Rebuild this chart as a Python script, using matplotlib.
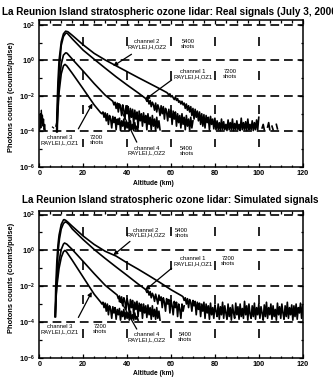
import numpy as np
import matplotlib
matplotlib.use('Agg')
import matplotlib.pyplot as plt
from matplotlib.ticker import NullFormatter

nan = np.nan
plt.rcParams['font.family'] = ['Liberation Sans', 'DejaVu Sans']
plt.rcParams['mathtext.fontset'] = 'custom'
plt.rcParams['mathtext.rm'] = 'Liberation Sans:bold'
plt.rcParams['mathtext.it'] = 'Liberation Sans:bold'
plt.rcParams['mathtext.bf'] = 'Liberation Sans:bold'
plt.rcParams['lines.scale_dashes'] = False

# ---------------- text ----------------
title_real = "La Reunion Island stratospheric ozone lidar: Real signals (July 3, 2000)"
title_sim = "La Reunion Island stratospheric ozone lidar: Simulated signals"
x_label = "Altitude (km)"
y_label = "Photons counts (counts/pulse)"
x_ticks = [0, 20, 40, 60, 80, 100, 120]
y_tick_exps = [-6, -4, -2, 0, 2]
grid_y_exps = [-4, -2, 0, 2]
grid_x = [20, 40, 60, 80, 100]
vdash_centers = [1.05, -0.85, -2.75, -4.65]

channel_names = ["channel 2\nRAYLEI,H,OZ2", "channel 1\nRAYLEI,H,OZ1",
                 "channel 3\nRAYLEI,L,OZ1", "channel 4\nRAYLEI,L,OZ2"]
channel_shots = ["5400\nshots", "7200\nshots", "7200\nshots", "5400\nshots"]

# ---------------- REAL signals (log10 counts/pulse) ----------------
real_ch2_x = [7.9, 8.0, 8.5, 9, 10, 11, 12, 13, 15, 20, 25, 30, 35, 40, 45, 50, 55, 58]
real_ch2_y = [-4.0, -3.0, -1.2, 0.0, 1.05, 1.5, 1.65, 1.62, 1.42, 0.88, 0.4, 0.03, -0.3,
              -0.63, -0.96, -1.28, -1.6, -1.8]
real_ch2_noise_start = 58.5
real_ch2_noise = [-1.85, -1.95, -1.88, -2.05, -1.98, -2.1, -2.2, -2.05, -2.25, -2.15, -2.35, -2.28, -2.45, -2.3,
                  -2.5, -2.4, -2.7, -2.45, -2.8, -2.55, -2.9, -2.6, -3.1, -2.7, -3.3, -2.75, -3.2, -2.85,
                  -3.4, -2.9, -3.6, -3.0, -3.7, -3.05, -3.8, -3.1, -3.5, -3.2, -3.9, -3.15, -3.6, -3.3, -3.85, -3.25,
                  -3.9, -3.4, -3.9, -3.5, -3.95, -3.3, -3.9, -3.45, -3.9, -3.6, -3.95, -3.35, -3.9, -3.5, -3.9, -3.3,
                  -3.95, -3.55, -3.9, -3.4, -3.9, -3.6, -3.95, -3.25, -3.9, -3.5, -3.9, -3.45, -3.95, -3.3, -3.9, -3.6,
                  -3.9, -3.4, -3.95, -3.5, -3.9, -3.35, -3.9, -3.2,
                  nan, nan, -3.8, -3.6, -3.9, nan, nan, -3.75, -3.5, -3.9, nan, -3.7, -3.9, nan, nan, -3.6, -3.85,
                  nan, nan, nan]

real_ch1_x = [8.2, 8.4, 9, 10, 11, 12, 12.5, 13, 15, 20, 25, 30, 35, 40, 45, 48]
real_ch1_y = [-4.0, -2.5, -0.6, 0.85, 1.35, 1.53, 1.55, 1.5, 1.22, 0.58, 0.07, -0.43, -0.92, -1.38, -1.82, -2.1]
real_ch1_noise_start = 48.5
real_ch1_noise = [-2.15, -2.3, -2.2, -2.45, -2.25, -2.6, -2.35, -2.5, -2.8, -2.4, -2.9, -2.5, -2.7, -3.1, -2.55,
                  -3.0, -2.6, -3.3, -2.7, -2.9, -3.4, -2.75, -3.2, -2.8, -3.6, -2.85, -3.3, -2.9, -3.7, -3.0,
                  -3.5, -3.1, -3.8, -3.0, -3.6, -3.2, -3.9, -3.1, -3.7, -3.3, -3.9, -3.2, -3.8, -3.4]

real_ch3_x = [8.0, 8.3, 9, 10, 11, 12, 12.5, 13, 15, 20, 25, 30, 33]
real_ch3_y = [-4.0, -3.0, -1.3, -0.2, 0.3, 0.43, 0.42, 0.36, 0.08, -0.6, -1.3, -1.95, -2.25]
real_ch3_noise_start = 33.5
real_ch3_noise = [-2.3, -2.5, -2.35, -2.7, -2.4, -2.9, -2.45, -2.6, -3.1, -2.5, -2.8, -3.3, -2.55, -3.0, -2.6,
                  -3.5, -2.7, -3.2, -2.75, -3.6, -2.8, -3.3, -2.9, -3.8, -2.85, -3.4, -3.0, -3.7, -2.95, -3.5,
                  -3.1, -3.9, -3.0, -3.6, -3.2, -3.9, -3.1, -3.7, -3.3, -3.95, -3.2, -3.8, -3.4, -3.9]

real_ch4_x = [8.0, 8.3, 9, 10, 11, 11.7, 12.5, 15, 20, 25, 28]
real_ch4_y = [-4.0, -3.2, -1.8, -0.75, -0.3, -0.22, -0.3, -0.72, -1.6, -2.5, -2.95]
real_ch4_noise_start = 28.5
real_ch4_noise = [-3.0, -2.9, -3.2, -2.95, -3.4, -3.0, -3.6, -3.1, -3.3, -3.8, -3.15, -3.5, -3.2, -3.9, -3.3,
                  -3.6, -3.25, -3.95, -3.4, -3.7, -3.3, -3.9, -3.45, -3.8, -3.5, -3.95, -3.4, -3.9, -3.6, -3.95,
                  -3.5, -3.9, -3.7, -3.95]

real_ground_start = 0.2
real_ground = [-3.9, -3.0, -3.8, -2.8, -3.5, -3.1, -3.7, -3.3, -3.9, -3.6, -3.95]
real_low_start = 5.0
real_low = [-3.8, nan, -3.75, -3.8, nan, -3.7, -3.45]

# ---------------- SIMULATED signals (log10 counts/pulse) ----------------
sim_ch2_x = [7.2, 7.5, 8, 8.5, 9, 10, 11, 11.3, 12, 13, 15, 20, 25, 30, 35, 40, 45, 50, 55, 60, 65]
sim_ch2_y = [-3.7, -2.0, -0.6, 0.3, 0.85, 1.45, 1.7, 1.72, 1.68, 1.58, 1.35, 0.8, 0.33, -0.05, -0.32,
             -0.7, -1.05, -1.42, -1.8, -2.2, -2.55]
sim_ch2_noise_start = 65.5
sim_ch2_noise = [-2.6, -2.8, -2.65, -3.0, -2.7, -3.2, -2.75, -2.9, -3.4, -2.8, -3.1, -2.85, -3.6, -2.9, -3.3,
                 -2.95, -3.7, -3.0, -3.4, -2.9,
                 -3.8, -3.0, -3.5, -3.1, -3.85, -2.95, -3.6, -3.2, -3.8, -3.05, -3.4, -3.7, -3.0, -3.85, -3.15,
                 -3.6, -2.9, -3.8, -3.1, -3.5,
                 -3.85, -3.0, -3.7, -3.2, -3.9, -3.05, -3.5, -3.8, -2.95, -3.6, -3.15, -3.85, -3.0, -3.7, -3.25,
                 -3.8, -2.85, -3.6, -3.1, -3.9,
                 -3.0, -3.55, -3.8, -3.1, -3.7, -2.95, -3.85, -3.2, -3.6, -3.0, -3.8, -3.15, -3.5, -3.9, -3.05,
                 -3.7, -2.9, -3.8, -3.2, -3.6,
                 -3.0, -3.85, -3.1, -3.7, -3.3, -3.9, -2.95, -3.6, -3.15, -3.8, -3.0, -3.5, -3.85, -3.1, -3.7,
                 -2.9, -3.8, -3.2, -3.6, -3.05,
                 -3.9, -3.1, -3.7, -3.0, -3.85, -3.2, -3.5, -2.95, -3.8, -3.1]

sim_ch1_x = [7.4, 7.7, 8.2, 8.7, 9.2, 10, 11, 11.8, 12.5, 13.5, 15, 20, 25, 30, 35, 40, 45, 48]
sim_ch1_y = [-3.7, -2.2, -0.8, 0.1, 0.65, 1.2, 1.5, 1.59, 1.56, 1.45, 1.2, 0.6, 0.05, -0.45, -0.93,
             -1.4, -1.88, -2.15]
sim_ch1_noise_start = 48.5
sim_ch1_noise = [-2.2, -2.35, -2.25, -2.5, -2.3, -2.65, -2.4, -2.55, -2.85, -2.45, -2.7, -3.0, -2.5, -2.8, -2.6,
                 -3.2, -2.65, -2.9, -3.4, -2.7, -3.0, -2.75, -3.5, -2.8, -3.1, -3.6, -2.85, -3.2, -2.9, -3.7,
                 -3.0, -3.3, -3.8, -3.0, -3.4, -3.1]

sim_ch3_x = [7.3, 7.6, 8.2, 9, 10, 11, 11.5, 12.5, 15, 20, 25, 30, 35]
sim_ch3_y = [-3.7, -2.6, -1.5, -0.6, 0.05, 0.35, 0.41, 0.35, 0.05, -0.62, -1.3, -1.95, -2.45]
sim_ch3_noise_start = 35.5
sim_ch3_noise = [-2.5, -2.7, -2.55, -2.9, -2.6, -3.1, -2.65, -2.85, -3.3, -2.7, -3.0, -3.5, -2.75, -3.2, -2.8,
                 -3.6, -2.9, -3.3, -2.85, -3.7, -2.95, -3.4, -3.0, -3.8, -3.0, -3.5, -3.1, -3.75, -3.05, -3.6,
                 -3.2, -3.85, -3.1, -3.7, -3.3, -3.85, -3.2, -3.8, -3.4, -3.9]

sim_ch4_x = [7.2, 7.5, 8, 9, 10, 11, 11.7, 12.5, 15, 20, 25, 28]
sim_ch4_y = [-3.7, -2.9, -2.0, -1.0, -0.4, -0.08, 0.0, -0.1, -0.55, -1.5, -2.45, -2.9]
sim_ch4_noise_start = 28.5
sim_ch4_noise = [-3.0, -2.9, -3.2, -2.95, -3.4, -3.0, -3.6, -3.1, -3.3, -3.8, -3.15, -3.5, -3.2, -3.85, -3.3,
                 -3.6, -3.25, -3.9, -3.4, -3.7, -3.3, -3.85, -3.45, -3.8, -3.5, -3.9, -3.4, -3.85, -3.6, -3.9,
                 -3.5, -3.85, -3.7, -3.9]

# ---------------- annotation anchors (km, log10) ----------------
real_label_pos = [(49, 0.93), (69.9, -0.76), (9.4, -4.48), (48.9, -5.08)]
real_shots_pos = [(67.9, 0.95), (86.9, -0.76), (26.1, -4.48), (67.2, -5.08)]
real_arrow_from = [(42, 0.35), (60.3, -1.1), (17.8, -3.85), (44.4, -4.6)]
real_arrow_to = [(33.6, -0.32), (48.2, -2.2), (24.2, -2.42), (35.5, -2.35)]

sim_label_pos = [(48.5, 0.99), (69.9, -0.61), (9.4, -4.41), (48.9, -4.84)]
sim_shots_pos = [(64.9, 0.99), (86.1, -0.61), (27.6, -4.41), (66.4, -4.84)]
sim_arrow_from = [(41.3, 0.5), (60.3, -1.0), (17.8, -3.75), (44.4, -4.4)]
sim_arrow_to = [(33.7, -0.27), (48.2, -2.23), (23.9, -2.32), (36.0, -2.6)]


def build(sx, sy, n0, ny, step=0.5):
    x = np.concatenate([np.asarray(sx, float), n0 + step * np.arange(len(ny))])
    y = np.concatenate([np.asarray(sy, float), np.asarray(ny, float)])
    return x, 10.0 ** y


W, H = 333, 378
fig = plt.figure(figsize=(W / 100, H / 100), dpi=100)
fig.patch.set_facecolor('white')


def style_axes(ax, ymax):
    ax.set_xlim(0, 120)
    ax.set_yscale('log')
    ax.set_ylim(1e-6, ymax)
    ax.set_xticks(x_ticks)
    ax.set_xticks(np.arange(0, 121, 5), minor=True)
    ax.set_yticks([10.0 ** e for e in y_tick_exps])
    ax.set_yticks([10.0 ** e for e in [-5, -3, -1, 1]], minor=True)
    ax.yaxis.set_minor_formatter(NullFormatter())
    ax.xaxis.set_minor_formatter(NullFormatter())
    ax.set_xticklabels([str(t) for t in x_ticks], fontsize=5.2, fontweight='bold')
    ax.set_yticklabels(['10$^{%d}$' % e for e in y_tick_exps], fontsize=5.2, fontweight='bold')
    ax.tick_params(which='both', direction='in', top=True, right=True, width=0.9)
    ax.tick_params(which='major', length=3.2, pad=3)
    ax.tick_params(which='minor', length=1.8)
    ax.tick_params(axis='x', pad=2.5)
    for s in ax.spines.values():
        s.set_linewidth(1.1)
    for e in grid_y_exps:
        ax.axhline(10.0 ** e, color='k', lw=1.2, dashes=(6.3, 3.5), zorder=1)
    for gx in grid_x:
        for c in vdash_centers:
            ax.vlines(gx, 10.0 ** (c - 0.25), 10.0 ** (c + 0.25), color='k', lw=1.2, zorder=1)


def draw_panel(ax, curves, extras, label_pos, shots_pos, afrom, ato):
    for (sx, sy, n0, ny) in curves:
        x, y = build(sx, sy, n0, ny)
        ax.plot(x, y, color='k', lw=1.2, zorder=3)
    for (n0, ny, step) in extras:
        x = n0 + step * np.arange(len(ny))
        ax.plot(x, 10.0 ** np.asarray(ny, float), color='k', lw=0.9, zorder=3)
    for i in range(4):
        ax.text(label_pos[i][0], 10 ** label_pos[i][1], channel_names[i], fontsize=4.2,
                ha='center', va='center', linespacing=0.95, zorder=4)
        ax.text(shots_pos[i][0], 10 ** shots_pos[i][1], channel_shots[i], fontsize=4.2,
                ha='center', va='center', linespacing=0.95, zorder=4)
        ax.annotate('', xy=(ato[i][0], 10 ** ato[i][1]), xytext=(afrom[i][0], 10 ** afrom[i][1]),
                    arrowprops=dict(arrowstyle='-|>', color='k', lw=0.9, mutation_scale=6,
                                    shrinkA=0, shrinkB=0), zorder=4)


ax1 = fig.add_axes([39.3 / W, 1 - 167 / H, 263.4 / W, 147 / H])
style_axes(ax1, 10 ** 2.28)
draw_panel(ax1,
           [(real_ch2_x, real_ch2_y, real_ch2_noise_start, real_ch2_noise),
            (real_ch1_x, real_ch1_y, real_ch1_noise_start, real_ch1_noise),
            (real_ch3_x, real_ch3_y, real_ch3_noise_start, real_ch3_noise),
            (real_ch4_x, real_ch4_y, real_ch4_noise_start, real_ch4_noise)],
           [(real_ground_start, real_ground, 0.25), (real_low_start, real_low, 0.5)],
           real_label_pos, real_shots_pos, real_arrow_from, real_arrow_to)

ax2 = fig.add_axes([39.3 / W, 1 - 357.7 / H, 263.4 / W, 146.7 / H])
style_axes(ax2, 10 ** 2.2)
draw_panel(ax2,
           [(sim_ch2_x, sim_ch2_y, sim_ch2_noise_start, sim_ch2_noise),
            (sim_ch1_x, sim_ch1_y, sim_ch1_noise_start, sim_ch1_noise),
            (sim_ch3_x, sim_ch3_y, sim_ch3_noise_start, sim_ch3_noise),
            (sim_ch4_x, sim_ch4_y, sim_ch4_noise_start, sim_ch4_noise)],
           [],
           sim_label_pos, sim_shots_pos, sim_arrow_from, sim_arrow_to)

fig.text(2 / W, 1 - 12 / H, title_real, ha='left', va='center', fontsize=7.2, fontweight='bold')
fig.text(170 / W, 1 - 200 / H, title_sim, ha='center', va='center', fontsize=7.1, fontweight='bold')
fig.text(153 / W, 1 - 183 / H, x_label, ha='center', va='center', fontsize=4.8, fontweight='bold')
fig.text(153 / W, 1 - 373.5 / H, x_label, ha='center', va='center', fontsize=4.8, fontweight='bold')
fig.text(12 / W, 1 - 97 / H, y_label, ha='center', va='center', rotation=90, fontsize=5.4, fontweight='bold')
fig.text(12 / W, 1 - 278 / H, y_label, ha='center', va='center', rotation=90, fontsize=5.4, fontweight='bold')

fig.savefig('out.png', dpi=100, facecolor='white')
